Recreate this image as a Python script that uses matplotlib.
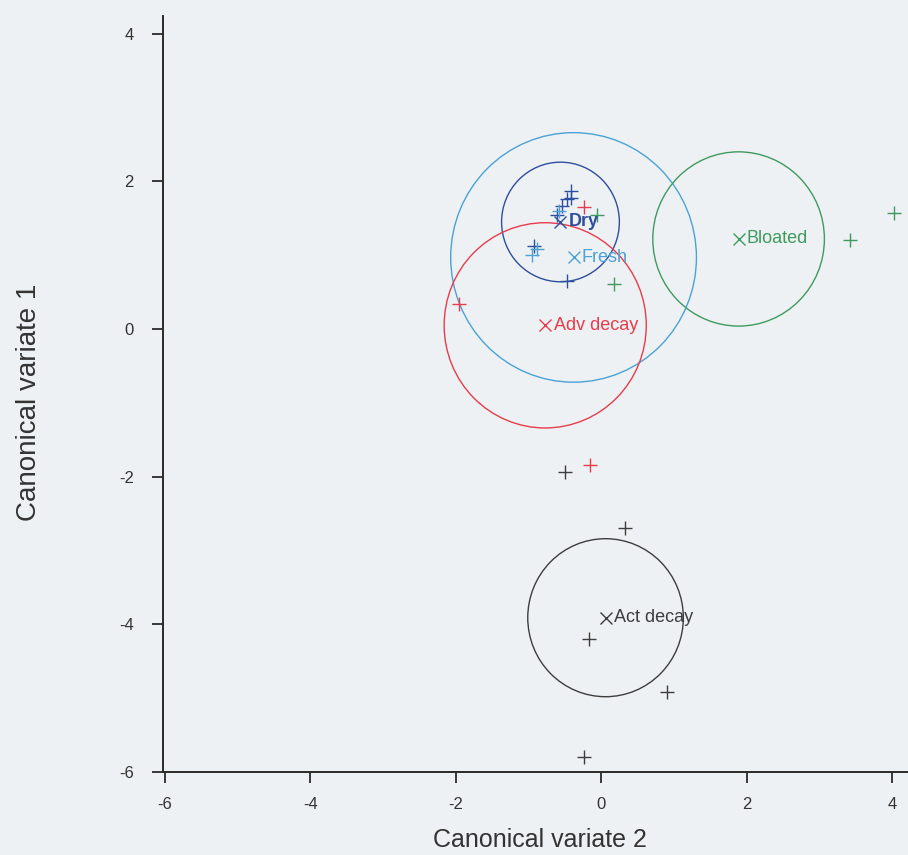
import matplotlib
matplotlib.use("Agg")
import matplotlib.pyplot as plt
from matplotlib.patches import Circle
from matplotlib import font_manager

# Canonical variate scores (x = CV2, y = CV1) per decomposition stage
dry_x = [-0.41, -0.42, -0.47, -0.54, -0.61, -0.47, -0.92]
dry_y = [1.87, 1.78, 1.76, 1.67, 1.54, 0.65, 1.13]

fresh_x = [-0.58, -0.88, -0.95]
fresh_y = [1.60, 1.08, 1.00]

adv_x = [-1.95, -0.15, -0.23]
adv_y = [0.34, -1.84, 1.65]

bloated_x = [4.03, 3.42, 0.17, -0.06]
bloated_y = [1.57, 1.20, 0.61, 1.54]

act_x = [-0.50, 0.33, -0.17, 0.90, -0.23]
act_y = [-1.93, -2.69, -4.20, -4.92, -5.80]

# Group means and confidence-circle radii
stages = ["Dry", "Fresh", "Adv decay", "Bloated", "Act decay"]
mean_x = [-0.56, -0.38, -0.77, 1.89, 0.06]
mean_y = [1.45, 0.97, 0.05, 1.22, -3.91]
radius = [0.81, 1.69, 1.39, 1.18, 1.07]

colors = {
    "Dry": "#2e4f9e",
    "Fresh": "#4aa2d6",
    "Adv decay": "#e63c4c",
    "Bloated": "#3f9a60",
    "Act decay": "#3d3d3d",
}
points = {
    "Dry": (dry_x, dry_y),
    "Fresh": (fresh_x, fresh_y),
    "Adv decay": (adv_x, adv_y),
    "Bloated": (bloated_x, bloated_y),
    "Act decay": (act_x, act_y),
}

available = {f.name for f in font_manager.fontManager.ttflist}
base_font = "Liberation Sans" if "Liberation Sans" in available else "DejaVu Sans"
narrow_font = "Liberation Sans Narrow" if "Liberation Sans Narrow" in available else base_font
plt.rcParams["font.family"] = [base_font, "DejaVu Sans"]
plt.rcParams["axes.unicode_minus"] = False

bg = "#eef1f3"
fig = plt.figure(figsize=(9.08, 8.55), dpi=100, facecolor=bg)
ax = fig.add_axes([163 / 908, 1 - 772 / 855, (908 - 163) / 908, (772 - 16) / 855])
ax.set_facecolor(bg)

for name in stages:
    xs, ys = points[name]
    ax.plot(xs, ys, linestyle="none", marker="+", markersize=10,
            markeredgewidth=1.0, color=colors[name], zorder=3)

for name, mx, my, r in zip(stages, mean_x, mean_y, radius):
    c = colors[name]
    ax.add_patch(Circle((mx, my), r, fill=False, edgecolor=c, linewidth=1.0, zorder=2))
    ax.plot([mx], [my], linestyle="none", marker="x", markersize=8,
            markeredgewidth=1.0, color=c, zorder=4)
    ax.annotate(name, (mx, my), xytext=(6, 0), textcoords="offset points",
                va="center", ha="left", fontsize=13, color=c, zorder=5,
                fontweight="bold" if name == "Dry" else "normal")

ax.set_xlim(-6.027, 4.22)
ax.set_ylim(-6, 4.24)
ax.set_xticks([-6, -4, -2, 0, 2, 4])
ax.set_yticks([-6, -4, -2, 0, 2, 4])

for side in ("top", "right"):
    ax.spines[side].set_visible(False)
for side in ("left", "bottom"):
    ax.spines[side].set_color("#2a2a2a")
    ax.spines[side].set_linewidth(1.4)

ax.tick_params(axis="both", direction="out", length=8, width=1.3,
               colors="#2a2a2a", labelsize=12, labelcolor="#333333")
ax.tick_params(axis="x", pad=10)
ax.tick_params(axis="y", pad=13)

ax.set_xlabel("Canonical variate 2", fontsize=18, color="#333333",
              family=[narrow_font, "DejaVu Sans"])
ax.xaxis.set_label_coords(0.506, -0.074)
ax.set_ylabel("Canonical variate 1", fontsize=20, color="#333333")
ax.yaxis.set_label_coords(-0.163, 0.489)

fig.savefig("out.png", dpi=100, facecolor=bg)
